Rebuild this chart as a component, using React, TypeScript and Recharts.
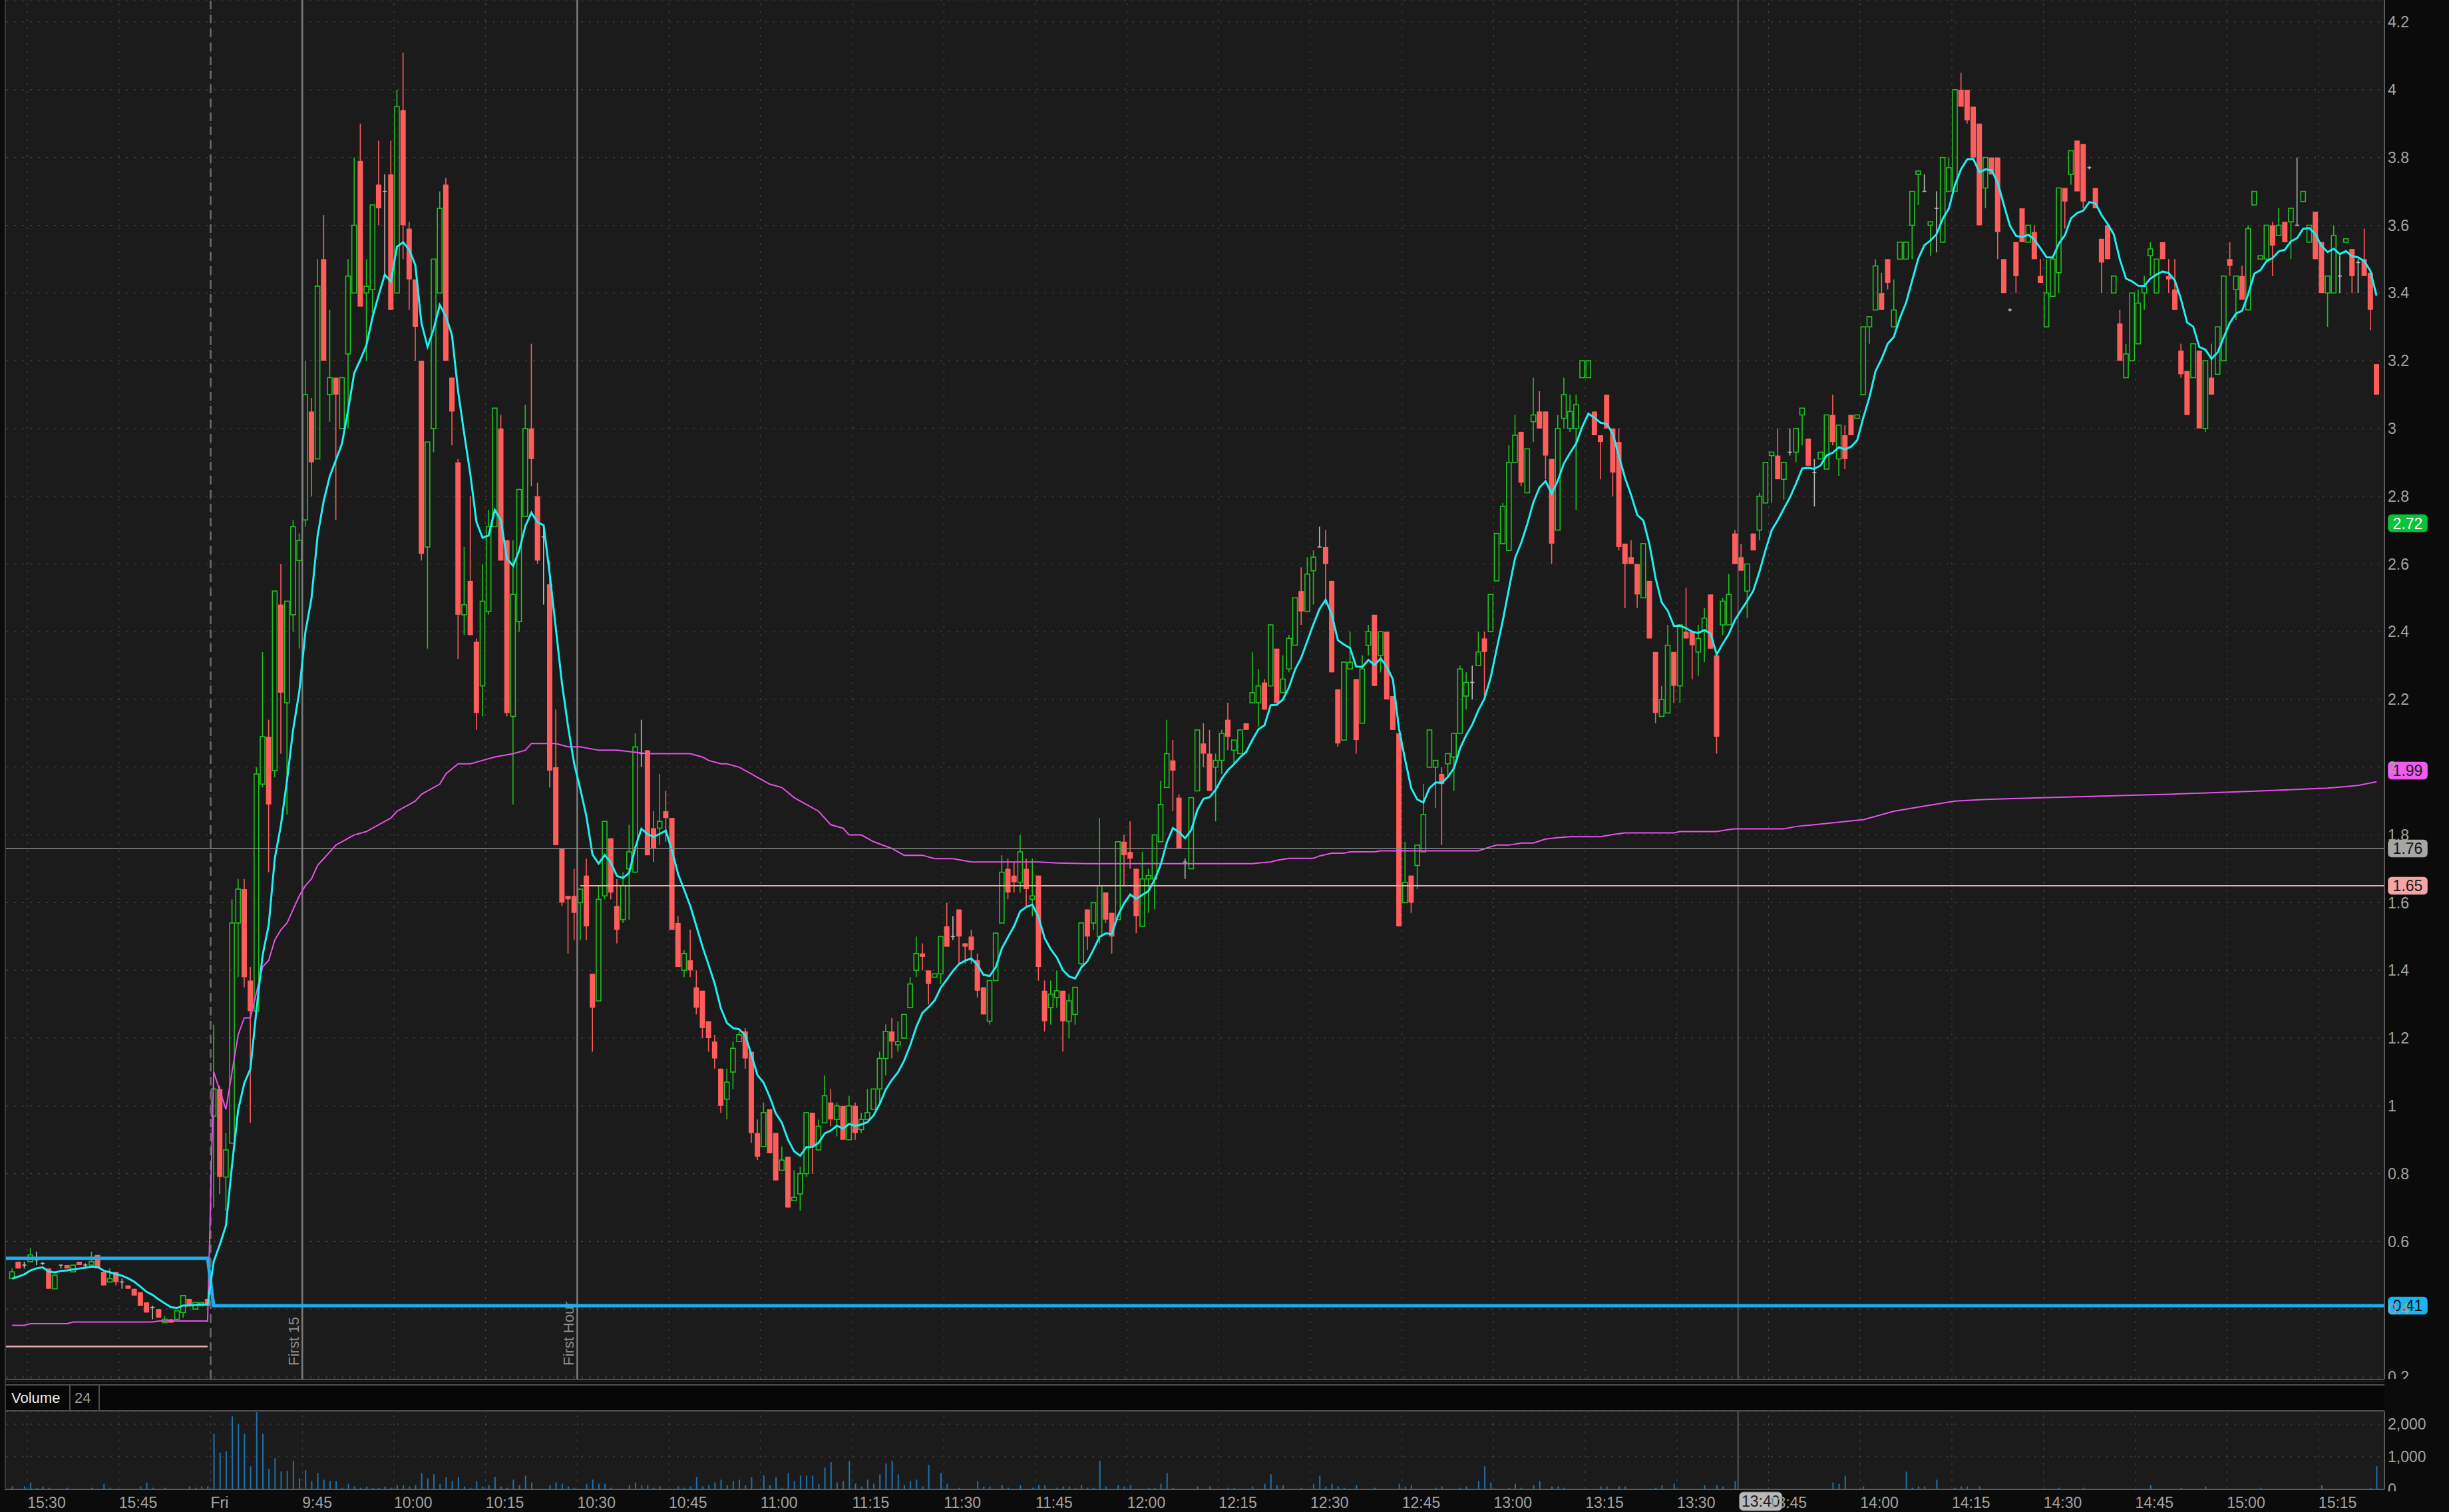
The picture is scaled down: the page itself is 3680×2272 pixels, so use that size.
import React from "react";
import {
  Bar,
  CartesianGrid,
  ComposedChart,
  Line,
  ReferenceLine,
  XAxis,
  YAxis,
} from "recharts";

// 1-minute bars, [open, high, low, close]. Bar index 0 = 9:30, negative = previous session (16:00 + index)
const prevDayStart = -33;
const prevDayBars = [
  [0.49, 0.52, 0.49, 0.51], [0.54, 0.54, 0.52, 0.52], [0.53, 0.54, 0.52, 0.53], [0.54, 0.58, 0.54, 0.56],
  [0.545, 0.57, 0.53, 0.545], [0.535, 0.54, 0.53, 0.535], [0.52, 0.52, 0.46, 0.46], [0.46, 0.5, 0.46, 0.5],
  [0.53, 0.53, 0.52, 0.53], [0.53, 0.53, 0.52, 0.52], [0.51, 0.53, 0.51, 0.53], [0.54, 0.54, 0.53, 0.53],
  [0.53, 0.535, 0.52, 0.53], [0.53, 0.57, 0.53, 0.54], [0.56, 0.56, 0.52, 0.52], [0.51, 0.51, 0.47, 0.47],
  [0.48, 0.52, 0.48, 0.49], [0.51, 0.51, 0.47, 0.48], [0.48, 0.49, 0.46, 0.48], [0.47, 0.47, 0.46, 0.46],
  [0.46, 0.46, 0.44, 0.44], [0.45, 0.45, 0.41, 0.41], [0.42, 0.42, 0.39, 0.39], [0.405, 0.41, 0.37, 0.405],
  [0.4, 0.4, 0.375, 0.375], [0.36, 0.38, 0.36, 0.37], [0.37, 0.37, 0.36, 0.36], [0.37, 0.395, 0.37, 0.395],
  [0.39, 0.44, 0.375, 0.44], [0.43, 0.43, 0.41, 0.41], [0.4, 0.42, 0.4, 0.42], [0.41, 0.42, 0.41, 0.42],
  [0.43, 0.43, 0.41, 0.41],
];

const morningStart = 0;
const morningBars = [
  [0.97, 1.24, 0.7, 1.05], [1.05, 1.06, 0.74, 0.79], [0.79, 0.92, 0.69, 0.87], [0.89, 1.61, 0.89, 1.54],
  [1.54, 1.67, 1.38, 1.64], [1.64, 1.67, 1.35, 1.38], [1.37, 1.41, 0.95, 1.28], [1.28, 2.0, 1.27, 1.98],
  [1.95, 2.34, 1.94, 2.09], [2.09, 2.14, 1.69, 1.89], [1.99, 2.52, 1.97, 2.52], [2.48, 2.6, 2.04, 2.22],
  [2.19, 2.49, 1.86, 2.49], [2.45, 2.73, 2.4, 2.71], [2.61, 2.69, 2.35, 2.67], [2.73, 3.2, 2.71, 3.1],
  [3.05, 3.09, 2.8, 2.9], [2.91, 3.5, 2.91, 3.42], [3.5, 3.63, 3.2, 3.2], [3.1, 3.35, 3.02, 3.15],
  [3.15, 3.15, 2.73, 3.1], [3.0, 3.15, 3.0, 3.15], [3.22, 3.5, 3.0, 3.45], [3.4, 3.8, 3.4, 3.6],
  [3.79, 3.9, 3.36, 3.36], [3.4, 3.5, 3.2, 3.42], [3.41, 3.66, 3.34, 3.66], [3.72, 3.85, 3.6, 3.65],
  [3.7, 3.75, 3.45, 3.7], [3.75, 3.85, 3.35, 3.35], [3.4, 4.0, 3.4, 3.95], [3.94, 4.11, 3.5, 3.6],
  [3.59, 3.61, 3.35, 3.44], [3.44, 3.44, 3.2, 3.3], [3.2, 3.2, 2.61, 2.63], [2.65, 2.96, 2.35, 2.96],
  [3.0, 3.5, 2.93, 3.5], [3.4, 3.7, 3.4, 3.65], [3.72, 3.74, 3.2, 3.2], [3.15, 3.15, 2.95, 3.05],
  [2.9, 2.91, 2.32, 2.45], [2.45, 2.65, 2.39, 2.48], [2.55, 2.8, 2.39, 2.39], [2.37, 2.38, 2.11, 2.16],
  [2.24, 2.6, 2.15, 2.49], [2.46, 2.76, 2.45, 2.71], [2.71, 3.06, 2.71, 3.06], [3.0, 3.04, 2.61, 2.61],
  [2.67, 2.67, 2.15, 2.16], [2.15, 2.67, 1.89, 2.51], [2.43, 2.82, 2.4, 2.82], [2.74, 3.07, 2.74, 3.0],
  [3.0, 3.25, 2.83, 2.91], [2.8, 2.84, 2.6, 2.61], [2.68, 2.71, 2.48, 2.68], [2.54, 2.61, 1.94, 1.99],
  [2.0, 2.17, 1.77, 1.77], [1.76, 1.76, 1.59, 1.6], [1.62, 1.62, 1.45, 1.61], [1.62, 1.7, 1.49, 1.57],
  [1.6, 1.64, 1.49, 1.64], [1.68, 1.73, 1.49, 1.53], [1.39, 1.39, 1.16, 1.29], [1.31, 1.65, 1.31, 1.61],
  [1.62, 1.84, 1.61, 1.84], [1.79, 1.79, 1.61, 1.63], [1.59, 1.67, 1.48, 1.52], [1.55, 1.69, 1.54, 1.65],
  [1.7, 1.83, 1.55, 1.75], [1.69, 2.1, 1.69, 2.06], [2.04, 2.14, 2.0, 2.04], [2.05, 2.05, 1.74, 1.74],
  [1.82, 1.87, 1.72, 1.76], [1.82, 1.98, 1.77, 1.84],
];

const middayStart = 74;
const middayBars = [
  [1.87, 1.93, 1.78, 1.85], [1.85, 1.85, 1.52, 1.52], [1.54, 1.56, 1.41, 1.41], [1.4, 1.46, 1.38, 1.45],
  [1.43, 1.52, 1.38, 1.4], [1.35, 1.4, 1.27, 1.29], [1.34, 1.34, 1.2, 1.23], [1.25, 1.25, 1.16, 1.2],
  [1.19, 1.21, 1.11, 1.14], [1.11, 1.11, 0.98, 1.0], [1.02, 1.11, 0.96, 1.07], [1.1, 1.19, 1.05, 1.17],
  [1.19, 1.22, 1.19, 1.21], [1.22, 1.23, 1.11, 1.14], [1.16, 1.16, 0.89, 0.92], [0.92, 0.96, 0.84, 0.85],
  [0.88, 1.01, 0.88, 0.98], [0.99, 0.99, 0.86, 0.86], [0.92, 0.92, 0.78, 0.78], [0.81, 0.88, 0.81, 0.84],
  [0.85, 0.85, 0.7, 0.7], [0.72, 0.81, 0.72, 0.73], [0.74, 0.82, 0.69, 0.8], [0.8, 0.98, 0.79, 0.98],
  [0.98, 0.98, 0.8, 0.88], [0.87, 0.96, 0.87, 0.94], [0.95, 1.09, 0.95, 1.03], [1.01, 1.05, 0.94, 0.96],
  [0.96, 1.01, 0.91, 1.0], [1.0, 1.0, 0.9, 0.9], [0.9, 1.03, 0.9, 1.0], [1.0, 1.01, 0.9, 0.92],
  [0.93, 0.98, 0.92, 0.96], [0.96, 1.05, 0.96, 0.98], [0.99, 1.05, 0.99, 1.05], [1.05, 1.16, 1.01, 1.14],
  [1.14, 1.24, 1.09, 1.22], [1.22, 1.26, 1.14, 1.19], [1.18, 1.25, 1.16, 1.19], [1.2, 1.27, 1.2, 1.27],
  [1.29, 1.38, 1.29, 1.36], [1.4, 1.5, 1.38, 1.45], [1.45, 1.48, 1.4, 1.44], [1.4, 1.4, 1.3, 1.36],
  [1.38, 1.39, 1.38, 1.39], [1.39, 1.5, 1.36, 1.5], [1.53, 1.6, 1.47, 1.47], [1.5, 1.56, 1.49, 1.5],
  [1.58, 1.58, 1.42, 1.5], [1.48, 1.48, 1.42, 1.47], [1.5, 1.52, 1.42, 1.46], [1.43, 1.45, 1.32, 1.34],
  [1.35, 1.35, 1.27, 1.27], [1.25, 1.37, 1.24, 1.37], [1.37, 1.51, 1.37, 1.51], [1.54, 1.74, 1.54, 1.69],
  [1.7, 1.73, 1.61, 1.63], [1.68, 1.72, 1.63, 1.66], [1.66, 1.8, 1.63, 1.75], [1.7, 1.73, 1.59, 1.64],
  [1.61, 1.73, 1.56, 1.62], [1.68, 1.68, 1.37, 1.41], [1.34, 1.37, 1.22, 1.25], [1.29, 1.37, 1.24, 1.33],
  [1.32, 1.4, 1.29, 1.34], [1.34, 1.34, 1.16, 1.25], [1.25, 1.33, 1.2, 1.31], [1.27, 1.35, 1.24, 1.35],
  [1.42, 1.54, 1.41, 1.54], [1.58, 1.58, 1.46, 1.5], [1.54, 1.6, 1.52, 1.6], [1.5, 1.85, 1.48, 1.65],
  [1.63, 1.63, 1.54, 1.55], [1.57, 1.57, 1.45, 1.5], [1.55, 1.78, 1.55, 1.78], [1.78, 1.8, 1.65, 1.74],
  [1.75, 1.84, 1.7, 1.73], [1.7, 1.7, 1.51, 1.56], [1.53, 1.75, 1.53, 1.67], [1.67, 1.7, 1.57, 1.68],
  [1.67, 1.8, 1.58, 1.8], [1.78, 1.96, 1.78, 1.89], [1.94, 2.14, 1.94, 2.04], [2.02, 2.08, 1.87, 1.99],
  [1.91, 1.92, 1.76, 1.76], [1.72, 1.73, 1.67, 1.72], [1.7, 1.91, 1.7, 1.91],
];

const afternoonStart = 161;
const afternoonBars = [
  [1.93, 2.11, 1.93, 2.11], [2.07, 2.13, 2.0, 2.04], [2.04, 2.11, 1.93, 1.93], [2.0, 2.04, 1.84, 2.02],
  [2.02, 2.11, 1.98, 2.1], [2.14, 2.19, 2.05, 2.09], [2.05, 2.08, 2.01, 2.08], [2.04, 2.11, 2.04, 2.11],
  [2.13, 2.13, 2.11, 2.11], [2.19, 2.34, 2.19, 2.22], [2.19, 2.29, 2.12, 2.24], [2.25, 2.26, 2.17, 2.17],
  [2.24, 2.42, 2.24, 2.42], [2.35, 2.35, 2.19, 2.19], [2.22, 2.33, 2.22, 2.26], [2.29, 2.39, 2.28, 2.38],
  [2.36, 2.5, 2.36, 2.5], [2.52, 2.59, 2.42, 2.46], [2.46, 2.62, 2.46, 2.57], [2.58, 2.64, 2.48, 2.62],
  [2.65, 2.71, 2.65, 2.65], [2.65, 2.7, 2.48, 2.6], [2.55, 2.55, 2.28, 2.28], [2.23, 2.23, 2.06, 2.07],
  [2.08, 2.31, 2.08, 2.31], [2.29, 2.4, 2.29, 2.31], [2.26, 2.26, 2.04, 2.08], [2.13, 2.33, 2.13, 2.29],
  [2.36, 2.42, 2.33, 2.4], [2.45, 2.45, 2.24, 2.24], [2.33, 2.4, 2.28, 2.4], [2.4, 2.4, 2.2, 2.2],
  [2.21, 2.21, 2.11, 2.11], [2.1, 2.1, 1.53, 1.53], [1.6, 1.78, 1.6, 1.66], [1.68, 1.68, 1.57, 1.6],
  [1.71, 1.77, 1.64, 1.77], [1.75, 1.95, 1.75, 1.86], [2.0, 2.11, 2.0, 2.11], [2.0, 2.02, 1.88, 2.02],
  [1.98, 2.0, 1.77, 1.95], [2.01, 2.04, 1.97, 2.04], [2.03, 2.1, 1.93, 2.1], [2.1, 2.3, 2.1, 2.29],
  [2.21, 2.28, 2.17, 2.25], [2.25, 2.3, 2.2, 2.25], [2.3, 2.4, 2.3, 2.34], [2.38, 2.4, 2.21, 2.34],
  [2.4, 2.51, 2.4, 2.51], [2.55, 2.69, 2.55, 2.69], [2.66, 2.78, 2.66, 2.77], [2.64, 2.95, 2.64, 2.9],
  [2.9, 3.04, 2.9, 2.98], [2.99, 2.99, 2.83, 2.84], [2.81, 2.94, 2.81, 2.94], [3.02, 3.15, 2.96, 3.04],
  [3.05, 3.11, 3.0, 3.0], [3.05, 3.05, 2.85, 2.92], [2.91, 2.91, 2.6, 2.66], [2.7, 3.04, 2.7, 3.0],
  [3.03, 3.15, 3.0, 3.1], [3.0, 3.1, 2.99, 3.05], [3.0, 3.1, 2.76, 3.07], [3.15, 3.2, 3.15, 3.2],
  [3.15, 3.2, 3.15, 3.2], [3.05, 3.05, 2.98, 2.98], [2.98, 2.98, 2.85, 2.96], [3.1, 3.1, 3.0, 3.0],
  [3.0, 3.0, 2.8, 2.87], [2.96, 3.0, 2.64, 2.65], [2.66, 2.66, 2.47, 2.6], [2.62, 2.67, 2.6, 2.6],
  [2.6, 2.6, 2.47, 2.51], [2.5, 2.66, 2.5, 2.66], [2.55, 2.55, 2.38, 2.38], [2.34, 2.34, 2.13, 2.16],
  [2.15, 2.24, 2.15, 2.2], [2.16, 2.42, 2.16, 2.36], [2.34, 2.34, 2.19, 2.24], [2.24, 2.42, 2.19, 2.42],
  [2.4, 2.53, 2.38, 2.38], [2.4, 2.4, 2.26, 2.36], [2.34, 2.42, 2.27, 2.38], [2.4, 2.47, 2.31, 2.44],
  [2.51, 2.51, 2.35, 2.35], [2.33, 2.33, 2.04, 2.09], [2.42, 2.5, 2.39, 2.49], [2.42, 2.57, 2.42, 2.51],
  [2.69, 2.7, 2.6, 2.6], [2.62, 2.66, 2.58, 2.58], [2.52, 2.6, 2.44, 2.6], [2.69, 2.69, 2.64, 2.64],
  [2.7, 2.81, 2.67, 2.8], [2.78, 2.9, 2.78, 2.9], [2.92, 2.93, 2.78, 2.93], [2.92, 3.0, 2.85, 2.85],
  [2.85, 2.9, 2.79, 2.9], [2.93, 3.0, 2.92, 2.93],
];

const lateStart = 259;
const lateBars = [
  [2.93, 3.0, 2.9, 3.0], [3.04, 3.06, 2.95, 3.06], [2.97, 2.97, 2.89, 2.89], [2.87, 2.91, 2.77, 2.87],
  [2.91, 2.93, 2.91, 2.93], [2.88, 3.04, 2.88, 3.04], [3.04, 3.1, 2.95, 2.96], [2.91, 3.01, 2.86, 3.01],
  [2.98, 3.01, 2.88, 2.91], [3.04, 3.04, 2.98, 2.98], [3.03, 3.04, 3.03, 3.04], [3.1, 3.3, 3.1, 3.3],
  [3.3, 3.33, 3.25, 3.33], [3.35, 3.5, 3.35, 3.48], [3.4, 3.46, 3.35, 3.35], [3.5, 3.5, 3.41, 3.43],
  [3.3, 3.44, 3.3, 3.35], [3.5, 3.55, 3.5, 3.55], [3.5, 3.55, 3.5, 3.55], [3.6, 3.7, 3.5, 3.7],
  [3.75, 3.76, 3.66, 3.76], [3.7, 3.75, 3.7, 3.7], [3.6, 3.61, 3.51, 3.61], [3.65, 3.7, 3.52, 3.65],
  [3.55, 3.8, 3.55, 3.8], [3.7, 3.8, 3.7, 3.77], [3.7, 4.0, 3.7, 4.0], [4.0, 4.05, 3.95, 3.95],
  [4.0, 4.0, 3.9, 3.91], [3.95, 3.95, 3.8, 3.8], [3.9, 3.9, 3.6, 3.6], [3.71, 3.8, 3.65, 3.8],
  [3.8, 3.8, 3.75, 3.75], [3.8, 3.8, 3.5, 3.58], [3.5, 3.5, 3.4, 3.4], [3.35, 3.355, 3.345, 3.35],
  [3.55, 3.55, 3.4, 3.45], [3.65, 3.65, 3.55, 3.55], [3.55, 3.6, 3.55, 3.6], [3.58, 3.6, 3.5, 3.5],
  [3.45, 3.5, 3.43, 3.43], [3.3, 3.5, 3.3, 3.4], [3.39, 3.5, 3.39, 3.5], [3.46, 3.71, 3.4, 3.71],
  [3.71, 3.71, 3.59, 3.67], [3.75, 3.82, 3.72, 3.82], [3.85, 3.85, 3.7, 3.7], [3.84, 3.84, 3.65, 3.67],
  [3.77, 3.775, 3.765, 3.77], [3.71, 3.71, 3.65, 3.65], [3.56, 3.56, 3.4, 3.49], [3.6, 3.6, 3.5, 3.5],
  [3.4, 3.45, 3.4, 3.45], [3.31, 3.35, 3.2, 3.2], [3.15, 3.25, 3.15, 3.22], [3.2, 3.4, 3.2, 3.4],
  [3.25, 3.41, 3.25, 3.37], [3.4, 3.45, 3.35, 3.42], [3.51, 3.55, 3.45, 3.53], [3.4, 3.5, 3.4, 3.5],
  [3.55, 3.55, 3.5, 3.5], [3.45, 3.5, 3.4, 3.44], [3.41, 3.5, 3.35, 3.35], [3.23, 3.25, 3.15, 3.16],
  [3.17, 3.17, 3.04, 3.04], [3.15, 3.25, 3.15, 3.25], [3.23, 3.23, 3.0, 3.0], [3.0, 3.2, 2.99, 3.2],
  [3.15, 3.25, 3.1, 3.1], [3.16, 3.3, 3.16, 3.3], [3.2, 3.45, 3.2, 3.45], [3.5, 3.55, 3.45, 3.48],
  [3.41, 3.45, 3.32, 3.45], [3.45, 3.48, 3.38, 3.38], [3.35, 3.6, 3.35, 3.59], [3.66, 3.7, 3.66, 3.7],
  [3.5, 3.51, 3.5, 3.51], [3.5, 3.6, 3.5, 3.6], [3.6, 3.61, 3.45, 3.54], [3.57, 3.65, 3.57, 3.6],
  [3.61, 3.61, 3.55, 3.55], [3.61, 3.65, 3.5, 3.65], [3.6, 3.8, 3.6, 3.6], [3.67, 3.7, 3.67, 3.7],
  [3.55, 3.6, 3.55, 3.6], [3.64, 3.64, 3.5, 3.5], [3.55, 3.55, 3.4, 3.4], [3.4, 3.45, 3.3, 3.45],
  [3.4, 3.6, 3.4, 3.57], [3.45, 3.51, 3.4, 3.45], [3.55, 3.56, 3.55, 3.56], [3.53, 3.53, 3.4, 3.45],
  [3.49, 3.5, 3.4, 3.49], [3.5, 3.59, 3.45, 3.45], [3.46, 3.46, 3.29, 3.35], [3.19, 3.19, 3.1, 3.1],
];

// volume per bar: [bar index, shares]
const prevDayVolume = [
  [-33, 90], [-31, 100], [-30, 207], [-29, 50], [-28, 90], [-27, 50], [-24, 50], [-20, 50], [-18, 170],
  [-17, 50], [-12, 90], [-11, 207], [-10, 50], [-8, 50], [-4, 90], [-3, 50], [-2, 90], [-1, 100],
];
const sessionVolume = [
  [0, 1703], [1, 1124], [2, 1166], [3, 2241], [4, 1993], [5, 1703], [6, 710], [7, 2366], [8, 1703], [9, 628],
  [10, 952], [11, 545], [12, 566], [13, 876], [14, 338], [15, 586], [16, 255], [17, 503], [18, 297], [19, 255],
  [20, 255], [21, 48], [22, 172], [23, 90], [24, 50], [25, 90], [26, 50], [27, 50], [28, 90], [29, 50],
  [30, 131], [31, 131], [32, 90], [33, 131], [34, 503], [35, 338], [36, 462], [37, 172], [38, 379], [39, 255],
  [40, 379], [41, 90], [42, 50], [43, 255], [44, 90], [45, 131], [46, 379], [47, 90], [48, 50], [49, 297],
  [50, 131], [51, 421], [52, 214], [55, 131], [56, 214], [57, 172], [58, 90], [59, 50], [61, 172], [62, 297],
  [63, 172], [64, 172], [65, 50], [68, 131], [69, 214], [70, 131], [71, 131], [72, 50], [73, 90], [76, 90],
  [77, 50], [78, 90], [79, 379], [80, 90], [81, 131], [82, 214], [83, 297], [84, 131], [85, 255], [86, 297],
  [87, 131], [88, 379], [90, 421], [91, 131], [92, 379], [93, 50], [94, 503], [95, 255], [96, 421], [97, 421],
  [98, 421], [99, 172], [100, 669], [101, 834], [102, 214], [103, 255], [104, 876], [105, 172], [106, 90],
  [107, 297], [108, 172], [109, 462], [110, 793], [111, 876], [112, 462], [113, 131], [114, 255], [115, 297],
  [116, 90], [117, 752], [119, 503], [120, 172], [122, 50], [125, 255], [126, 90], [127, 90], [129, 131],
  [130, 50], [132, 131], [134, 50], [135, 131], [136, 131], [138, 50], [139, 90], [140, 90], [141, 50],
  [142, 131], [143, 50], [144, 50], [145, 876], [146, 90], [148, 131], [149, 90], [150, 131], [153, 50],
  [154, 50], [155, 172], [156, 503], [157, 50], [161, 90], [163, 90], [166, 50], [167, 50], [170, 90],
  [172, 172], [173, 462], [174, 131], [175, 131], [178, 50], [180, 172], [181, 421], [182, 90], [183, 172],
  [184, 90], [185, 50], [187, 131], [190, 50], [194, 172], [195, 90], [196, 131], [200, 50], [201, 90],
  [204, 50], [205, 90], [207, 255], [208, 710], [209, 214], [212, 50], [213, 172], [214, 50], [216, 131],
  [217, 255], [219, 90], [220, 90], [221, 50], [227, 90], [228, 90], [230, 90], [231, 90], [236, 50],
  [237, 131], [239, 172], [244, 131], [246, 131], [247, 90], [249, 255], [265, 214], [266, 172], [267, 421],
  [270, 90], [277, 545], [278, 50], [279, 90], [280, 90], [282, 297], [285, 50], [286, 90], [287, 90],
  [289, 90], [302, 50], [306, 50], [317, 131], [322, 50], [326, 90], [335, 50], [345, 131], [353, 50],
  [354, 710],
];

// VWAP: [bar index, price]
const vwapReadings = [
  [-33, 0.352], [-31, 0.352], [-30, 0.357], [-24, 0.357], [-23, 0.362], [-10, 0.362], [-9, 0.365], [-1, 0.365],
  [0, 1.1], [2, 0.99], [4, 1.21], [5, 1.26], [6, 1.26], [8, 1.41], [9, 1.43], [10, 1.49], [11, 1.52],
  [12, 1.54], [13, 1.58], [14, 1.62], [15, 1.65], [16, 1.67], [17, 1.71], [18, 1.73], [19, 1.75], [20, 1.77],
  [21, 1.78], [22, 1.79], [23, 1.8], [25, 1.81], [26, 1.82], [27, 1.83], [29, 1.85], [30, 1.87], [32, 1.89],
  [33, 1.9], [34, 1.92], [35, 1.93], [37, 1.95], [38, 1.98], [39, 1.995], [40, 2.01], [42, 2.01], [44, 2.02],
  [46, 2.03], [49, 2.04], [51, 2.05], [52, 2.07], [56, 2.07], [58, 2.06], [60, 2.06], [63, 2.05], [66, 2.05],
  [71, 2.04], [78, 2.04], [80, 2.03], [81, 2.02], [83, 2.01], [84, 2.01], [86, 2.0], [88, 1.98], [89, 1.97],
  [91, 1.95], [93, 1.94], [95, 1.91], [97, 1.89], [99, 1.87], [101, 1.83], [103, 1.82], [104, 1.8], [106, 1.8],
  [108, 1.78], [111, 1.76], [113, 1.74], [116, 1.74], [118, 1.73], [121, 1.73], [124, 1.72], [135, 1.72],
  [138, 1.717], [143, 1.715], [170, 1.715], [171, 1.717], [173, 1.72], [174, 1.725], [176, 1.731], [180, 1.731],
  [181, 1.738], [183, 1.746], [185, 1.746], [186, 1.75], [190, 1.75], [191, 1.753], [207, 1.753], [209, 1.765],
  [210, 1.77], [212, 1.77], [214, 1.776], [216, 1.776], [218, 1.788], [220, 1.792], [222, 1.795], [227, 1.795],
  [229, 1.801], [231, 1.806], [239, 1.806], [240, 1.81], [246, 1.81], [248, 1.816], [249, 1.818], [257, 1.818],
  [259, 1.825], [262, 1.83], [270, 1.845], [275, 1.87], [280, 1.885], [285, 1.9], [290, 1.905], [300, 1.91],
  [320, 1.92], [335, 1.93], [346, 1.938], [351, 1.946], [354, 1.957],
];

// blue level line: prior-session value, then today's
const levelSteps = [[-33.5, 0.55], [-0.5, 0.55], [0.5, 0.41], [355.8, 0.41]];
const prevDayLow = 0.29;
const pivotPrice = 1.65;
const pivotFrom = 60.5;
const crosshairPrice = 1.76;
const crosshairTime = 250;
const emaSeed = 0.49;
const emaLength = 9;

const xTicks = [-30, -15, 0, 15, 30, 45, 60, 75, 90, 105, 120, 135, 150, 165, 180, 195, 210, 225, 240, 255, 270, 285, 300, 315, 330, 345];
const priceTicks = [0.2, 0.4, 0.6, 0.8, 1, 1.2, 1.4, 1.6, 1.8, 2, 2.2, 2.4, 2.6, 2.8, 3, 3.2, 3.4, 3.6, 3.8, 4, 4.2];
const volumeTicks = [0, 1000, 2000];
const badges = [
  { price: 2.72, text: "2.72", bg: "#08c33a", fg: "#ffffff" },
  { price: 1.99, text: "1.99", bg: "#f05cf0", fg: "#1a1a1a" },
  { price: 0.41, text: "0.41", bg: "#1cb4f2", fg: "#101010" },
];

const xDomain = [-33.5, 355.8];
const priceDomain = [0.194, 4.265];
const volumeDomain = [0, 2388];

const UP = "#1ec21e";
const DOWN = "#ff5c5c";
const FLAT = "#b8b8b8";
const GRID = "#4b4b4b";
const AXIS_TEXT = "#a4a4a4";
const FONT = "'Liberation Sans', Arial, sans-serif";

const candles: any[] = [];
[
  [prevDayStart, prevDayBars],
  [morningStart, morningBars],
  [middayStart, middayBars],
  [afternoonStart, afternoonBars],
  [lateStart, lateBars],
].forEach(([start, rows]: any) => {
  rows.forEach((r: number[], i: number) => {
    candles.push({ t: start + i + 0.5, o: r[0], h: Math.max(r[1], r[0], r[3]), l: Math.min(r[2], r[0], r[3]), c: r[3] });
  });
});
let ema = emaSeed;
candles.forEach((d, i) => {
  ema = i === 0 ? emaSeed : ema + (2 / (emaLength + 1)) * (d.c - ema);
  d.ema = ema;
});

const vwapData = vwapReadings.map(([m, v]) => ({ t: m + 0.5, v }));
const levelData = levelSteps.map(([t, v]) => ({ t, v }));
const volumeData = [...prevDayVolume, ...sessionVolume].map(([m, v]) => ({ t: m + 0.5, v }));

const fmtTime = (t: number) => {
  if (t === 0) return "Fri";
  const mins = t < 0 ? 16 * 60 + t : 9 * 60 + 30 + t;
  return `${Math.floor(mins / 60)}:${String(mins % 60).padStart(2, "0")}`;
};

function Candle(props: any) {
  const { x, y, width, height } = props;
  const d = props.payload || props;
  if (x == null || y == null) return null;
  const top = Math.min(y, y + height);
  const bot = Math.max(y, y + height);
  const span = d.h - d.l;
  const py = (v: number) => (span > 0 ? top + ((d.h - v) / span) * (bot - top) : top);
  const cx = x + width / 2;
  const bw = 7;
  const yo = py(d.o);
  const yc = py(d.c);
  if (d.c > d.o) {
    return (
      <g>
        <line x1={cx} x2={cx} y1={top} y2={yc} stroke={UP} strokeWidth={1.6} />
        <line x1={cx} x2={cx} y1={yo} y2={bot} stroke={UP} strokeWidth={1.6} />
        <rect x={cx - bw / 2} y={yc} width={bw} height={Math.max(yo - yc, 1)} fill="none" stroke={UP} strokeWidth={1.6} />
      </g>
    );
  }
  if (d.c < d.o) {
    return (
      <g>
        <line x1={cx} x2={cx} y1={top} y2={bot} stroke={DOWN} strokeWidth={1.6} />
        <rect x={cx - bw / 2 - 0.5} y={yo} width={bw + 1} height={Math.max(yc - yo, 1.5)} fill={DOWN} />
      </g>
    );
  }
  return (
    <g>
      <line x1={cx} x2={cx} y1={top} y2={Math.max(bot, top + 1)} stroke={FLAT} strokeWidth={1.6} />
      <line x1={cx - 3} x2={cx + 3} y1={yo} y2={yo} stroke={FLAT} strokeWidth={1.6} />
    </g>
  );
}

const badge = (text: string, bg: string, fg: string) => (props: any) => {
  const vb = props.viewBox || {};
  const bx = (vb.x || 0) + (vb.width || 0) + 5;
  const by = vb.y || 0;
  return (
    <g>
      <rect x={bx} y={by - 13.5} width={60} height={27} rx={6} fill={bg} stroke="rgba(0,0,0,0.4)" />
      <text x={bx + 30} y={by} dy="0.36em" textAnchor="middle" fill={fg} fontSize={23} fontFamily={FONT}>
        {text}
      </text>
    </g>
  );
};

const sideLabel = (text: string) => (props: any) => {
  const vb = props.viewBox || {};
  const lx = (vb.x || 0) - 5;
  const ly = (vb.y || 0) + (vb.height || 0) - 20;
  return (
    <text x={lx} y={ly} transform={`rotate(-90 ${lx} ${ly})`} fill="#8e8e8e" fontSize={22} fontFamily={FONT}>
      {text}
    </text>
  );
};

const crossBubble = (props: any) => {
  const vb = props.viewBox || {};
  const bx = (vb.x || 0) + 2;
  const by = (vb.y || 0) + (vb.height || 0) + 4;
  return (
    <g>
      <rect x={bx} y={by} width={64} height={28} rx={6} fill="#b9b9b9" stroke="#7a7a7a" />
      <text x={bx + 32} y={by + 22} textAnchor="middle" fill="#1c1c1c" fontSize={23} fontFamily={FONT}>
        {fmtTime(crosshairTime)}
      </text>
    </g>
  );
};

const TimeTick = (props: any) => {
  const { x, y, payload } = props;
  return (
    <text x={x} y={y + 28} textAnchor="start" fill={AXIS_TEXT} fontSize={23} fontFamily={FONT}>
      {fmtTime(payload.value)}
    </text>
  );
};

function PriceChart() {
  return (
    <ComposedChart width={3680} height={2072} data={candles} margin={{ top: 0, right: 0, bottom: 0, left: 9 }}>
      <CartesianGrid vertical={false} stroke={GRID} strokeDasharray="3 9" fill="#1b1b1b" />
      <XAxis type="number" dataKey="t" domain={xDomain} allowDataOverflow hide />
      <YAxis
        orientation="right"
        width={97}
        domain={priceDomain}
        ticks={priceTicks}
        interval={0}
        allowDataOverflow
        tickLine={false}
        tickSize={0}
        tickMargin={5}
        axisLine={{ stroke: "#5c5c5c", strokeWidth: 2 }}
        tick={{ fill: AXIS_TEXT, fontSize: 23, fontFamily: FONT }}
        tickFormatter={(v: number) => String(Number(v.toFixed(1)))}
      />
      {xTicks.map((t) => (
        <ReferenceLine key={"g" + t} x={t} stroke={GRID} strokeDasharray="3 9" />
      ))}
      <ReferenceLine x={0} stroke="#6c6c6c" strokeWidth={2.5} strokeDasharray="13 8" />
      <ReferenceLine x={15} stroke="#7c7c7c" strokeWidth={2.5} label={sideLabel("First 15")} />
      <ReferenceLine x={60} stroke="#7c7c7c" strokeWidth={2.5} label={sideLabel("First Hour")} />
      <ReferenceLine x={crosshairTime} stroke="#6e6e6e" strokeWidth={1.5} />
      <ReferenceLine
        segment={[{ x: xDomain[0], y: prevDayLow }, { x: -0.5, y: prevDayLow }]}
        stroke="#e9b0b0"
        strokeWidth={2.5}
      />
      <Bar dataKey={(d: any) => [d.l, d.h]} barSize={9} shape={Candle} isAnimationActive={false} />
      <Line data={vwapData} dataKey="v" type="linear" stroke="#e552e8" strokeWidth={2} dot={false} isAnimationActive={false} />
      <Line data={levelData} dataKey="v" type="linear" stroke="#1eaeee" strokeWidth={5} dot={false} isAnimationActive={false} />
      <Line dataKey="ema" type="linear" stroke="#22eef2" strokeWidth={3} dot={false} isAnimationActive={false} />
      <ReferenceLine
        segment={[{ x: pivotFrom, y: pivotPrice }, { x: xDomain[1], y: pivotPrice }]}
        stroke="#f2a6a6"
        strokeWidth={2}
        label={badge(String(pivotPrice), "#f5a5a5", "#1a1a1a")}
      />
      <ReferenceLine
        y={crosshairPrice}
        stroke="#8c8c8c"
        strokeWidth={1.5}
        label={badge(String(crosshairPrice), "#a6a6a6", "#141414")}
      />
      {badges.map((b) => (
        <ReferenceLine key={b.text} y={b.price} strokeOpacity={0} label={badge(b.text, b.bg, b.fg)} />
      ))}
    </ComposedChart>
  );
}

function VolumeChart() {
  return (
    <ComposedChart width={3680} height={151} data={volumeData} margin={{ top: 0, right: 0, bottom: 0, left: 9 }}>
      <CartesianGrid vertical={false} stroke={GRID} strokeDasharray="3 9" fill="#1b1b1b" />
      <XAxis
        type="number"
        dataKey="t"
        domain={xDomain}
        allowDataOverflow
        ticks={xTicks}
        interval={0}
        height={34}
        tickLine={false}
        tickSize={0}
        tickMargin={0}
        axisLine={{ stroke: "#5c5c5c", strokeWidth: 2 }}
        tick={<TimeTick />}
      />
      <YAxis
        orientation="right"
        width={97}
        domain={volumeDomain}
        ticks={volumeTicks}
        interval={0}
        allowDataOverflow
        tickLine={false}
        tickSize={0}
        tickMargin={5}
        axisLine={{ stroke: "#5c5c5c", strokeWidth: 2 }}
        tick={{ fill: AXIS_TEXT, fontSize: 23, fontFamily: FONT }}
        tickFormatter={(v: number) => v.toLocaleString("en-US")}
      />
      {xTicks.map((t) => (
        <ReferenceLine key={"g" + t} x={t} stroke={GRID} strokeDasharray="3 9" />
      ))}
      <Bar dataKey="v" barSize={2} fill="#1d73ad" isAnimationActive={false} />
      <ReferenceLine x={crosshairTime} stroke="#6e6e6e" strokeWidth={1.5} label={crossBubble} />
    </ComposedChart>
  );
}

export default function App() {
  const rule = (top: number, h: number, color: string) => (
    <div style={{ position: "absolute", left: 8, top, width: 3575, height: h, background: color }} />
  );
  return (
    <div style={{ position: "relative", width: 3680, height: 2272, background: "#0b0b0b", overflow: "hidden", fontFamily: FONT }}>
      <style>{"body{margin:0;background:#0b0b0b}"}</style>
      <div style={{ position: "absolute", left: 0, top: 0 }}>
        <PriceChart />
      </div>
      {rule(2072, 2, "#4e4e4e")}
      {rule(2076, 1, "#3a3a3a")}
      {rule(2080, 2, "#4e4e4e")}
      <div style={{ position: "absolute", left: 8, top: 2082, width: 3575, height: 37, background: "#070707" }} />
      {rule(2119, 2, "#4e4e4e")}
      <div style={{ position: "absolute", left: 17, top: 2088, fontSize: 22, color: "#ececec", lineHeight: "26px" }}>Volume</div>
      <div style={{ position: "absolute", left: 104, top: 2082, width: 2, height: 37, background: "#4e4e4e" }} />
      <div style={{ position: "absolute", left: 112, top: 2088, fontSize: 22, color: "#9c9c9c", lineHeight: "26px" }}>24</div>
      <div style={{ position: "absolute", left: 148, top: 2082, width: 2, height: 37, background: "#4e4e4e" }} />
      <div style={{ position: "absolute", left: 0, top: 2121 }}>
        <VolumeChart />
      </div>
      {/* the time-axis strip hides the lower half of the volume "0" label, as in the original */}
      <div style={{ position: "absolute", left: 3584, top: 2241, width: 96, height: 31, background: "#0b0b0b" }} />
      <div style={{ position: "absolute", left: 7, top: 0, width: 2, height: 2240, background: "#3c3c3c" }} />
    </div>
  );
}
